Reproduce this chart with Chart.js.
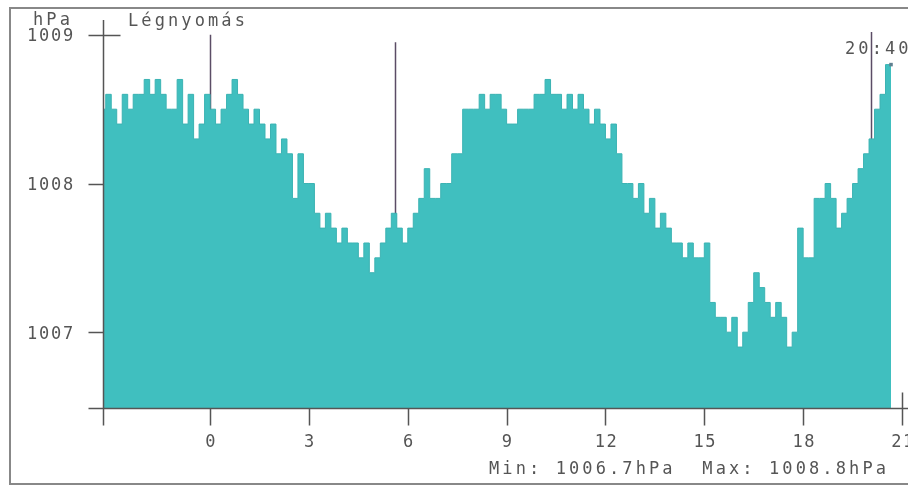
<!DOCTYPE html>
<html lang="hu">
<head>
  <meta charset="UTF-8" />
  <title>Légnyomás</title>
  <script src="https://cdn.jsdelivr.net/npm/chart.js"></script>
  <style>
    html, body { margin: 0; padding: 0; background: #fff; }
    #wrap { position: relative; width: 908px; height: 486px; }
  </style>
</head>
<body>
  <div id="wrap"><canvas id="pressureChart"></canvas></div>

  <script>
    // 10 perces mérések, 20:40-től (előző nap) 20:40-ig, hPa
    const pressure = [
      1008.5, 1008.5, 1008.6, 1008.5, 1008.4, 1008.6, 1008.5, 1008.6, 1008.6, 1008.7,
      1008.6, 1008.7, 1008.6, 1008.5, 1008.5, 1008.7, 1008.4, 1008.6, 1008.3, 1008.4,
      1008.6, 1008.5, 1008.4, 1008.5, 1008.6, 1008.7, 1008.6, 1008.5, 1008.4, 1008.5,
      1008.4, 1008.3, 1008.4, 1008.2, 1008.3, 1008.2, 1007.9, 1008.2, 1008.0, 1008.0,
      1007.8, 1007.7, 1007.8, 1007.7, 1007.6, 1007.7, 1007.6, 1007.6, 1007.5, 1007.6,
      1007.4, 1007.5, 1007.6, 1007.7, 1007.8, 1007.7, 1007.6, 1007.7, 1007.8, 1007.9,
      1008.1, 1007.9, 1007.9, 1008.0, 1008.0, 1008.2, 1008.2, 1008.5, 1008.5, 1008.5,
      1008.6, 1008.5, 1008.6, 1008.6, 1008.5, 1008.4, 1008.4, 1008.5, 1008.5, 1008.5,
      1008.6, 1008.6, 1008.7, 1008.6, 1008.6, 1008.5, 1008.6, 1008.5, 1008.6, 1008.5,
      1008.4, 1008.5, 1008.4, 1008.3, 1008.4, 1008.2, 1008.0, 1008.0, 1007.9, 1008.0,
      1007.8, 1007.9, 1007.7, 1007.8, 1007.7, 1007.6, 1007.6, 1007.5, 1007.6, 1007.5,
      1007.5, 1007.6, 1007.2, 1007.1, 1007.1, 1007.0, 1007.1, 1006.9, 1007.0, 1007.2,
      1007.4, 1007.3, 1007.2, 1007.1, 1007.2, 1007.1, 1006.9, 1007.0, 1007.7, 1007.5,
      1007.5, 1007.9, 1007.9, 1008.0, 1007.9, 1007.7, 1007.8, 1007.9, 1008.0, 1008.1,
      1008.2, 1008.3, 1008.5, 1008.6, 1008.8
    ];
    const startHour = -20 / 6;   // 20:40 előző nap
    const stepHours = 1 / 6;     // 10 perc
    const times = pressure.map((_, i) => startHour + i * stepHours);

    const xTicks = [0, 3, 6, 9, 12, 15, 18, 21];
    const yTicks = [1007, 1008, 1009];
    const markerHours = [0, 5.62, 20.05];
    const markerTops = [1009.0, 1008.95, 1009.02];

    const unitLabel = 'hPa';
    const titleLabel = 'Légnyomás';
    const lastTime = '20:40';
    const minMaxLabel = 'Min: 1006.7hPa  Max: 1008.8hPa';

    const fillColor = '#40bfbf';
    const axisColor = '#555';
    const textColor = '#555';
    const markColor = '#5b4d66';
    const font = '17px "DejaVu Sans Mono", monospace';

    function txt(ctx, s, x, y, align, spacing) {
      ctx.textAlign = align || 'left';
      ctx.letterSpacing = (spacing || 3.1) + 'px';
      ctx.fillText(s, x, y);
    }

    const axesPlugin = {
      id: 'axesPlugin',
      beforeDatasetsDraw(chart) {
        const { ctx, scales: { x, y } } = chart;
        ctx.save();
        ctx.strokeStyle = markColor;
        ctx.lineWidth = 1.5;
        markerHours.forEach((h, i) => {
          const px = Math.round(x.getPixelForValue(h)) + 0.5;
          ctx.beginPath();
          ctx.moveTo(px, y.getPixelForValue(markerTops[i]));
          ctx.lineTo(px, y.bottom);
          ctx.stroke();
        });
        ctx.restore();
      },
      afterDraw(chart) {
        const { ctx, scales: { x, y } } = chart;
        const base = Math.round(y.bottom) + 0.5;
        const left = Math.round(x.left) + 0.5;
        ctx.save();

        // keret
        ctx.strokeStyle = '#888';
        ctx.lineWidth = 2;
        ctx.beginPath();
        ctx.moveTo(908, 8); ctx.lineTo(10, 8); ctx.lineTo(10, 484); ctx.lineTo(908, 484);
        ctx.stroke();

        // tengelyek
        ctx.strokeStyle = axisColor;
        ctx.lineWidth = 1.5;
        ctx.beginPath();
        ctx.moveTo(left - 15, base); ctx.lineTo(908, base);
        ctx.moveTo(left, y.top); ctx.lineTo(left, base + 17);
        yTicks.forEach(v => {
          const py = Math.round(y.getPixelForValue(v)) + 0.5;
          ctx.moveTo(left - 15, py);
          ctx.lineTo(v === 1009 ? left + 17 : left, py);
        });
        xTicks.forEach(h => {
          const px = Math.round(x.getPixelForValue(h)) + 0.5;
          ctx.moveTo(px, h === 21 ? base - 16 : base);
          ctx.lineTo(px, base + 17);
        });
        ctx.stroke();

        // feliratok
        ctx.fillStyle = textColor;
        ctx.font = font;
        ctx.textBaseline = 'middle';
        txt(ctx, unitLabel, 33, 21);
        txt(ctx, titleLabel, 128, 22);
        yTicks.forEach(v => txt(ctx, String(v), 27, y.getPixelForValue(v) + 2, 'left', 1.8));
        xTicks.forEach(h => txt(ctx, String(h), x.getPixelForValue(h) + 1, 443, 'center', 1.5));
        txt(ctx, minMaxLabel, 489, 470);
        txt(ctx, lastTime, 845, 50);
        ctx.restore();
      }
    };

    new Chart(document.getElementById('pressureChart'), {
      type: 'line',
      data: {
        datasets: [{
          label: titleLabel,
          data: times.map((t, i) => ({ x: t, y: pressure[i] })),
          stepped: 'after',
          fill: 'start',
          backgroundColor: fillColor,
          borderColor: '#3bb3b3',
          borderWidth: 1,
          pointRadius: c => c.dataIndex === pressure.length - 1 ? 2.5 : 0,
          pointStyle: 'rect',
          pointBackgroundColor: '#5f8090',
          pointBorderWidth: 0
        }]
      },
      options: {
        responsive: true,
        maintainAspectRatio: false,
        animation: false,
        layout: { padding: { left: 103, right: 6, top: 20, bottom: 78 } },
        plugins: { legend: { display: false }, tooltip: { enabled: false } },
        scales: {
          x: { type: 'linear', min: -3.25, max: 21, display: false },
          y: { min: 1006.49, max: 1009.1, display: false }
        }
      },
      plugins: [axesPlugin]
    });
  </script>
</body>
</html>
